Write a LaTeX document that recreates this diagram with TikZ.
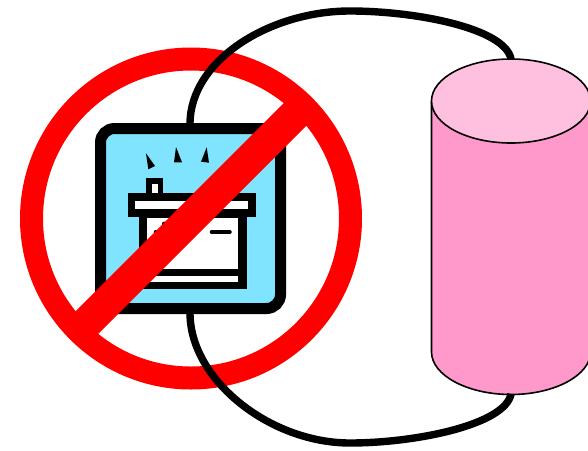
\documentclass[tikz,border=0pt]{standalone}
\definecolor{battblue}{HTML}{80E4FF}
\definecolor{cylbody}{HTML}{FF99CC}
\definecolor{cyltop}{HTML}{FFC0E0}
\tikzset{
  wire/.style={draw=black,line width=7.4pt,line cap=butt},
  blackpart/.style={fill=black,draw=none},
  whitepart/.style={fill=white,draw=none},
  spark/.style={fill=black,draw=none},
  forbid/.style={draw=red,line width=23pt},
  forbidbar/.style={draw=red,line width=32pt,line cap=butt},
  cyl/.style={draw=black,line width=1.6pt}
}
\begin{document}
\begin{tikzpicture}[x=1pt,y=-1pt]
\useasboundingbox (0,0) rectangle (588,450);
\clip (0,0) rectangle (588,450);
\coordinate (battTop) at (190,124);
\coordinate (battBot) at (190,313);
\coordinate (cylTop) at (511,59);
\coordinate (cylBot) at (511,394);
% cylinder
\draw[cyl,fill=cylbody] (431.5,101) -- (431.5,352) .. controls (431.5,375) and (467,394.5) .. (511,394.5) .. controls (555,394.5) and (590.5,375) .. (590.5,352) -- (590.5,101);
\draw[cyl,fill=cyltop] (511,101) ellipse[x radius=79.5,y radius=42];
% battery frame
\draw[black,line width=11pt,fill=battblue,rounded corners=14pt] (100.5,128.5) rectangle (280.5,308.5);
% sparks
\fill[spark] (146,153.3) -- (155,166) -- (148.3,169.3) -- cycle;
\fill[spark] (176,147) -- (182,162.3) -- (174,162.3) -- cycle;
\fill[spark] (206.7,147.3) -- (209,162.7) -- (201,161.7) -- cycle;
% terminal
\fill[blackpart] (146,178.3) rectangle (163.3,193);
\fill[whitepart] (152,184) rectangle (158,193);
% lid
\fill[blackpart] (127.7,192.7) rectangle (256,216.7);
\fill[whitepart] (135,201) rectangle (248.3,209.3);
% body
\fill[blackpart] (139.3,216.7) rectangle (246.7,289);
\fill[whitepart] (147.3,217.7) rectangle (238,269);
\fill[whitepart] (147.3,276) rectangle (238,281.7);
% signs
\draw[black,line width=4.6pt,line cap=round] (212,232) -- (229.5,232);
\draw[black,line width=4.6pt,line cap=round] (156,232) -- (172,232);
\draw[black,line width=5pt,line cap=round] (164,224) -- (164,240);
% prohibition sign
\draw[forbid] (191,218.5) circle[radius=159.5];
\draw[forbidbar] (78,331.5) -- (304,105.5);
% wires
\draw[wire] (battTop) .. controls (190,60) and (270,11) .. (350,11) .. controls (415,11) and (505,28) .. (cylTop);
\draw[wire] (battBot) .. controls (190,380) and (270,443) .. (350,443) .. controls (415,443) and (505,425) .. (cylBot);
\end{tikzpicture}
\end{document}
